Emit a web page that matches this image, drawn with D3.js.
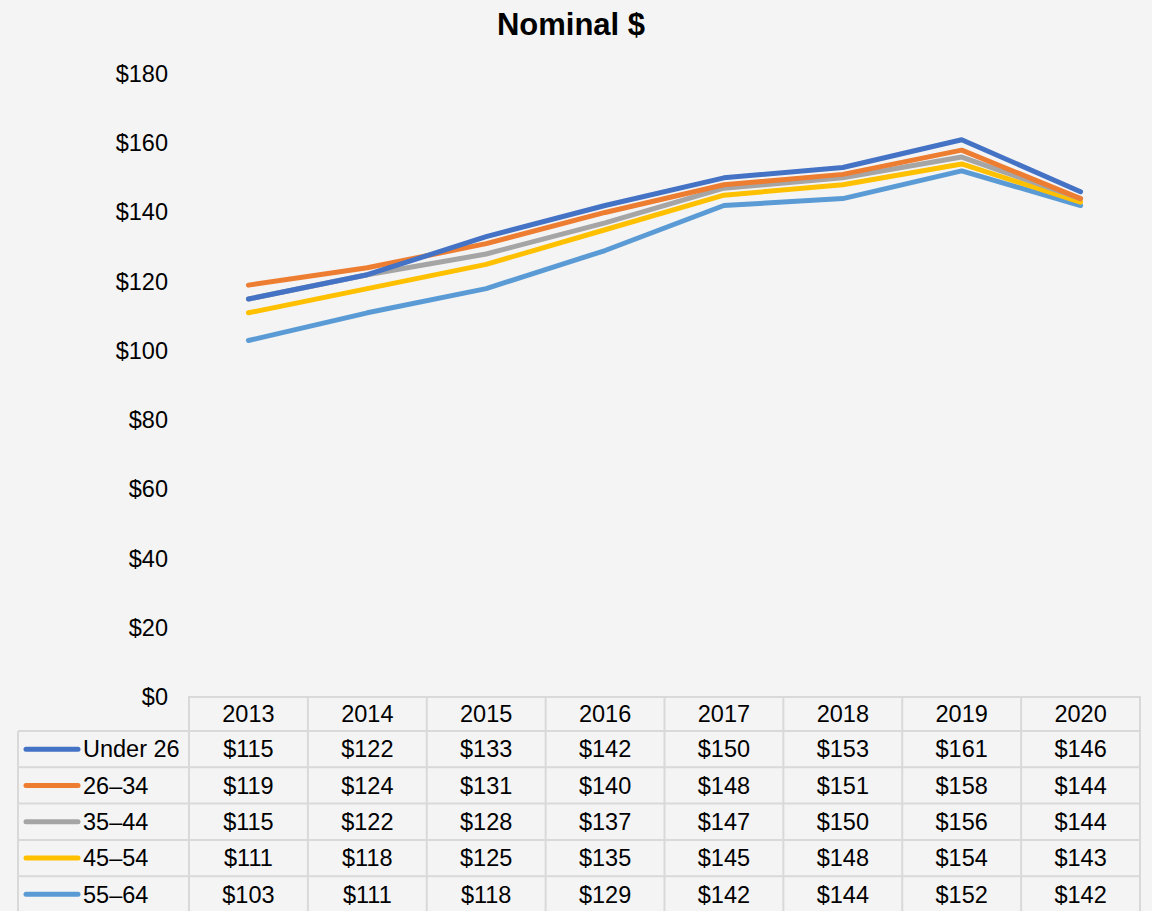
<!DOCTYPE html>
<html>
<head>
<meta charset="utf-8">
<script src="https://cdn.jsdelivr.net/npm/d3@7"></script>
<style>
  html, body { margin: 0; padding: 0; background: #f4f4f4; }
  svg { display: block; font-family: "Liberation Sans", Arial, sans-serif; }
</style>
</head>
<body>
<svg id="chart" width="1152" height="911"></svg>
<script>
// Spending by age group, nominal dollars
const years = ["2013", "2014", "2015", "2016", "2017", "2018", "2019", "2020"];
const seriesNames = ["Under 26", "26\u201334", "35\u201344", "45\u201354", "55\u201364"];
const under26 = [115, 122, 133, 142, 150, 153, 161, 146];
const age26to34 = [119, 124, 131, 140, 148, 151, 158, 144];
const age35to44 = [115, 122, 128, 137, 147, 150, 156, 144];
const age45to54 = [111, 118, 125, 135, 145, 148, 154, 143];
const age55to64 = [103, 111, 118, 129, 142, 144, 152, 142];
const yTicks = [0, 20, 40, 60, 80, 100, 120, 140, 160, 180];
const colors = ["#4472C4", "#ED7D31", "#A5A5A5", "#FFC000", "#5B9BD5"];

const series = [under26, age26to34, age35to44, age45to54, age55to64].map((values, i) => ({
  name: seriesNames[i], values, color: colors[i]
}));

const svg = d3.select("#chart");
const W = 1152, H = 911;
const plotLeft = 189, plotRight = 1140, plotTop = 74, plotBottom = 697;
const fontSize = 23.5;

const x = d3.scaleBand().domain(years).range([plotLeft, plotRight]);
const y = d3.scaleLinear().domain([0, 180]).range([plotBottom, plotTop]);
const money = v => "$" + v;

// Title
svg.append("text")
  .attr("x", 571).attr("y", 35)
  .attr("text-anchor", "middle")
  .attr("font-size", 31).attr("font-weight", "bold").attr("fill", "#000")
  .text("Nominal $");

// Y axis labels
const yAxis = d3.axisLeft(y).tickValues(yTicks).tickFormat(money).tickSize(0).tickPadding(0);
const yg = svg.append("g").attr("transform", "translate(168,0)").call(yAxis);
yg.select(".domain").remove();
yg.selectAll("text").attr("font-size", fontSize).attr("fill", "#000")
  .attr("font-family", "Liberation Sans, Arial, sans-serif");

// Lines
const line = d3.line()
  .x((d, i) => x(years[i]) + x.bandwidth() / 2)
  .y(d => y(d));

svg.append("g").selectAll("path")
  .data(series.slice().reverse())
  .join("path")
  .attr("d", d => line(d.values))
  .attr("fill", "none")
  .attr("stroke", d => d.color)
  .attr("stroke-width", 5)
  .attr("stroke-linejoin", "round")
  .attr("stroke-linecap", "round");

// Data table
const rowH = 36.3;
const headerTop = 697;
const legendLeft = 18;
const gridColor = "#d9d9d9";
const tbl = svg.append("g");

// Header row
tbl.append("rect").attr("x", plotLeft).attr("y", headerTop)
  .attr("width", plotRight - plotLeft).attr("height", 34)
  .attr("fill", "none").attr("stroke", gridColor).attr("stroke-width", 2);
const headerBottom = headerTop + 34;
years.forEach(yr => {
  tbl.append("line")
    .attr("x1", x(yr)).attr("x2", x(yr))
    .attr("y1", headerTop).attr("y2", H + 5)
    .attr("stroke", gridColor).attr("stroke-width", 2);
  tbl.append("text")
    .attr("x", x(yr) + x.bandwidth() / 2).attr("y", headerTop + 17)
    .attr("dy", "0.35em").attr("text-anchor", "middle")
    .attr("font-size", fontSize).attr("fill", "#000").text(yr);
});
tbl.append("line").attr("x1", plotRight).attr("x2", plotRight)
  .attr("y1", headerTop).attr("y2", H + 5)
  .attr("stroke", gridColor).attr("stroke-width", 2);
tbl.append("line").attr("x1", legendLeft).attr("x2", legendLeft)
  .attr("y1", headerBottom).attr("y2", H + 5)
  .attr("stroke", gridColor).attr("stroke-width", 2);

series.forEach((s, r) => {
  const rTop = headerBottom + r * rowH;
  tbl.append("line").attr("x1", legendLeft).attr("x2", plotRight)
    .attr("y1", rTop).attr("y2", rTop)
    .attr("stroke", gridColor).attr("stroke-width", 2);
  const cy = rTop + rowH / 2;
  tbl.append("line").attr("x1", 26).attr("x2", 78)
    .attr("y1", cy).attr("y2", cy)
    .attr("stroke", s.color).attr("stroke-width", 5).attr("stroke-linecap", "round");
  tbl.append("text").attr("x", 83).attr("y", cy).attr("dy", "0.35em")
    .attr("font-size", fontSize).attr("fill", "#000").text(s.name);
  s.values.forEach((v, i) => {
    tbl.append("text")
      .attr("x", x(years[i]) + x.bandwidth() / 2).attr("y", cy)
      .attr("dy", "0.35em").attr("text-anchor", "middle")
      .attr("font-size", fontSize).attr("fill", "#000").text(money(v));
  });
});
const lastBottom = headerBottom + series.length * rowH;
tbl.append("line").attr("x1", legendLeft).attr("x2", plotRight)
  .attr("y1", lastBottom).attr("y2", lastBottom)
  .attr("stroke", gridColor).attr("stroke-width", 2);
</script>
</body>
</html>
